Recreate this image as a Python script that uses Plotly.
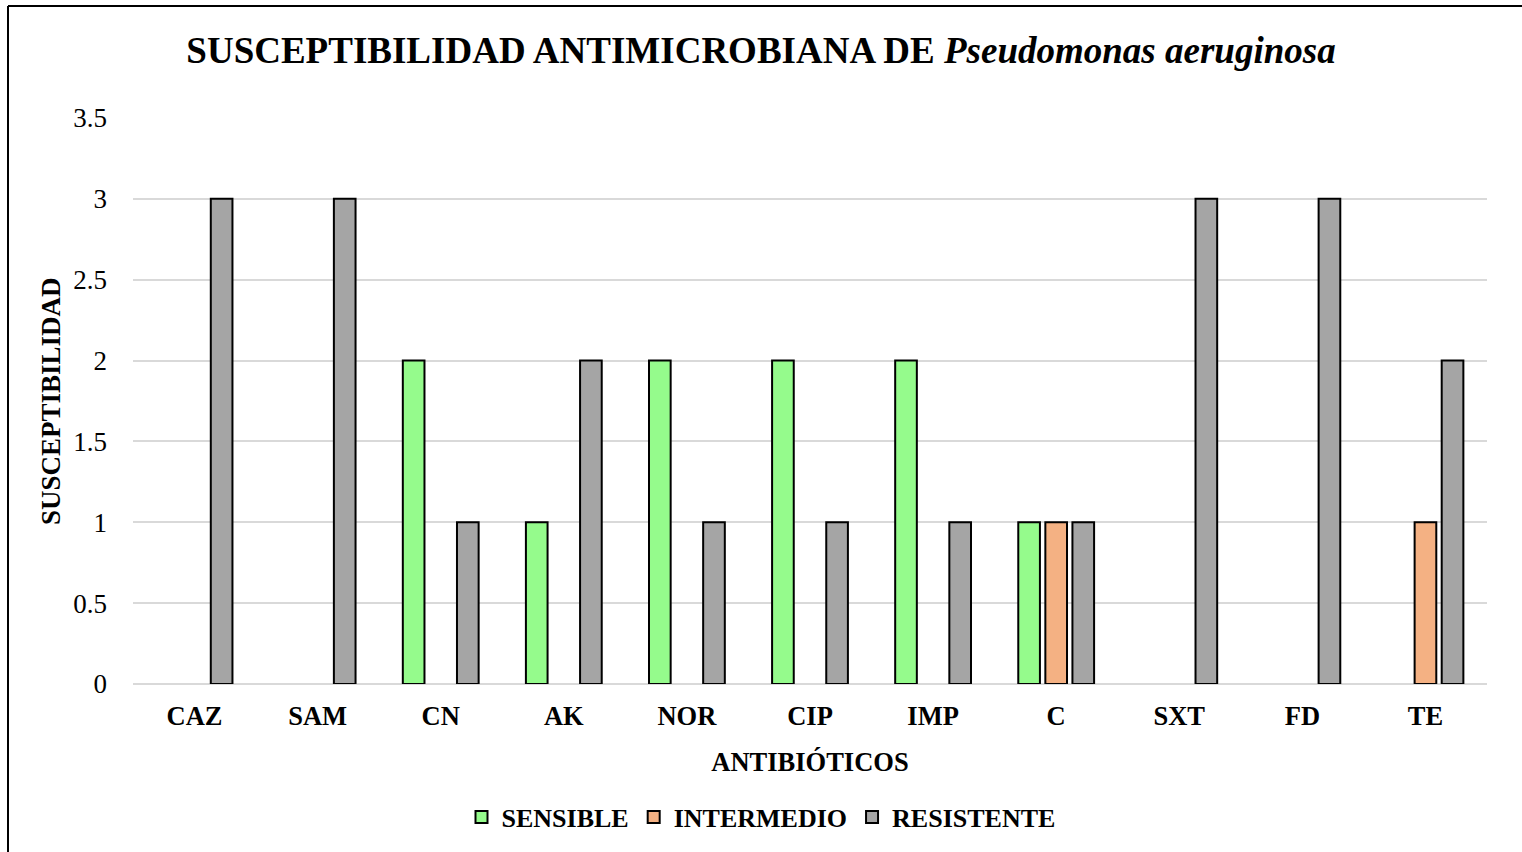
import plotly.graph_objects as go

categories = ["CAZ", "SAM", "CN", "AK", "NOR", "CIP", "IMP", "C", "SXT", "FD", "TE"]
sensible = [0, 0, 2, 1, 2, 2, 2, 1, 0, 0, 0]
intermedio = [0, 0, 0, 0, 0, 0, 0, 1, 0, 0, 1]
resistente = [3, 3, 1, 2, 1, 1, 1, 1, 3, 3, 2]
y_ticks = [0, 0.5, 1, 1.5, 2, 2.5, 3, 3.5]

series = [
    ("SENSIBLE", sensible, "#95FB8C"),
    ("INTERMEDIO", intermedio, "#F4B183"),
    ("RESISTENTE", resistente, "#A5A5A5"),
]

FONT = "Liberation Serif, Times New Roman, serif"

fig = go.Figure()
for name, vals, color in series:
    fig.add_trace(go.Bar(
        name=name,
        x=categories,
        y=[v if v else None for v in vals],
        marker=dict(color=color, line=dict(color="#000000", width=2)),
    ))

W, H = 1522, 852
ml, mr, mt, mb = 133, 35, 118, 168
pw = W - ml - mr
ph = H - mt - mb

def px_x(px):
    return (px - ml) / pw

def px_y(py):
    return 1 - (py - mt) / ph

fig.update_layout(
    width=W, height=H,
    margin=dict(l=ml, r=mr, t=mt, b=mb),
    paper_bgcolor="white",
    plot_bgcolor="white",
    barmode="group",
    bargap=0.34,
    bargroupgap=0.2,
    font=dict(family=FONT, color="#000000"),
    title=dict(
        text="<b>SUSCEPTIBILIDAD ANTIMICROBIANA DE <i>Pseudomonas aeruginosa</i></b>",
        x=0.5, xref="container", xanchor="center",
        y=1 - 50 / H, yref="container", yanchor="middle",
        font=dict(size=37, family=FONT, color="#000000"),
    ),
    xaxis=dict(
        showgrid=False,
        showline=False,
        tickfont=dict(size=26.5, family=FONT, color="#000000", weight="bold"),
        ticklabelstandoff=13,
        title=dict(text="<b>ANTIBIÓTICOS</b>", font=dict(size=26.5, family=FONT), standoff=22),
    ),
    yaxis=dict(
        range=[0, 3.5],
        tickvals=y_ticks,
        ticktext=[f"{v:g}" for v in y_ticks],
        showgrid=True,
        gridcolor="#D9D9D9",
        gridwidth=2,
        zeroline=True,
        zerolinecolor="#D9D9D9",
        zerolinewidth=2,
        showline=False,
        tickfont=dict(size=27, family=FONT, color="#000000"),
        ticklabelstandoff=25,
    ),
    legend=dict(
        orientation="h",
        x=0.5, xref="container", xanchor="center",
        y=1 - 817 / H, yref="container", yanchor="middle",
        font=dict(size=26, family=FONT, color="#000000", weight="bold"),
        itemsizing="constant",
        itemwidth=30,
        traceorder="normal",
    ),
    showlegend=True,
)

# Y axis title
fig.add_annotation(
    text="<b>SUSCEPTIBILIDAD</b>", textangle=-90,
    xref="paper", yref="paper", x=px_x(51), y=0.5,
    xanchor="center", yanchor="middle", showarrow=False,
    font=dict(size=27, family=FONT, color="#000000"),
)

# Chart frame (left and top edges visible in the reference crop)
fx = px_x(8)
fy = px_y(6)
fig.add_shape(type="line", xref="paper", yref="paper",
              x0=fx, x1=fx, y0=fy, y1=px_y(860),
              line=dict(color="#000000", width=2))
fig.add_shape(type="line", xref="paper", yref="paper",
              x0=fx, x1=px_x(1530), y0=fy, y1=fy,
              line=dict(color="#000000", width=2))

fig.write_html(
    "out.html",
    config={"displayModeBar": False},
    post_script="document.body.style.margin='0px';document.body.style.overflow='hidden';",
)
